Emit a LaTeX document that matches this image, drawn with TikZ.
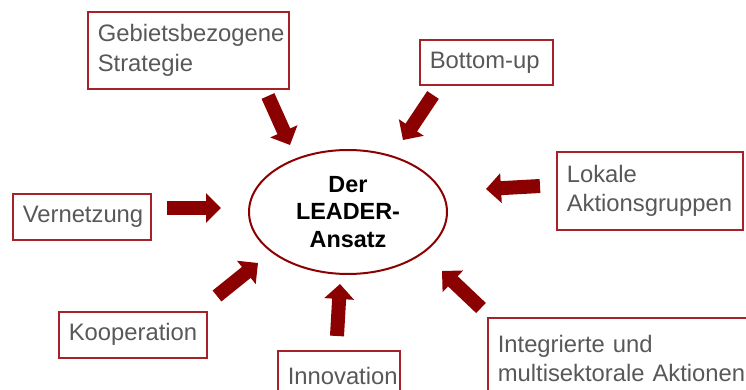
\documentclass[tikz,border=0pt]{standalone}
\usepackage{fontspec}
\setmainfont{Liberation Sans}
\usetikzlibrary{shapes.geometric,arrows.meta}
\definecolor{leaderred}{RGB}{139,0,0}
\definecolor{framered}{RGB}{165,35,40}
\definecolor{labelgray}{RGB}{88,88,88}
\tikzset{
  >=latex,
}
\tikzstyle{field}=[draw=framered,line width=0.8pt,anchor=north west,align=left,
  inner xsep=5pt,inner ysep=0pt,text=labelgray,
  font=\fontsize{11.9}{14.6}\selectfont,execute at begin node={\hyphenpenalty=10000}]
\tikzstyle{push}=[leaderred,line width=7pt,-{Triangle[length=7.5pt,width=14.5pt]}]

\begin{document}
\begin{tikzpicture}[x=0.5pt,y=-0.5pt]
    \useasboundingbox (0,0) rectangle (746,390);
    \clip (0,0) rectangle (746,390);
    % centre
    \node[ellipse,draw=leaderred,line width=1pt,minimum width=99pt,minimum height=62pt,
      align=center,font=\fontsize{11.7}{13.75}\selectfont\bfseries,inner sep=0pt] (leader) at (348,212) {Der\\LEADER-\\Ansatz};
    % the seven features
    \node[field,minimum width=100.5pt,minimum height=38.5pt,text width=90.5pt] (gebiet) at (87,11) {Gebietsbezogene\\Strategie};
    \node[field,minimum width=66.5pt,minimum height=22.5pt,text width=56.5pt] (bottomup) at (419,39) {Bottom-up};
    \node[field,minimum width=93pt,minimum height=39pt,text width=83pt] (lokal) at (556,151) {Lokale\\Aktionsgruppen};
    \node[field,minimum width=69pt,minimum height=23pt,text width=59pt] (vernetz) at (12,193) {Vernetzung};
    \node[field,minimum width=74pt,minimum height=23pt,text width=64pt] (kooper) at (58,311) {Kooperation};
    \node[field,minimum width=61pt,minimum height=25pt,text width=51pt] (innov) at (277,350) {Innovation};
    \node[field,minimum width=140pt,minimum height=41pt,text width=130pt] (integr) at (487,317) {Integrierte und\\multisektorale Aktionen};
    % arrows pointing at the centre
    \coordinate (gebiet-a) at (268,96);   \coordinate (gebiet-b) at (290,145);
    \coordinate (bottomup-a) at (433,95); \coordinate (bottomup-b) at (403,140);
    \coordinate (lokal-a) at (540,186);   \coordinate (lokal-b) at (486,189);
    \coordinate (vernetz-a) at (167,208); \coordinate (vernetz-b) at (221,208);
    \coordinate (kooper-a) at (217,296);  \coordinate (kooper-b) at (258,263);
    \coordinate (innov-a) at (337,336);   \coordinate (innov-b) at (340,284);
    \coordinate (integr-a) at (481,308);  \coordinate (integr-b) at (442,271);
    \foreach \f in {gebiet,bottomup,lokal,vernetz,kooper,innov,integr}
      \draw[push] (\f-a) -- (\f-b);
\end{tikzpicture}
\end{document}
